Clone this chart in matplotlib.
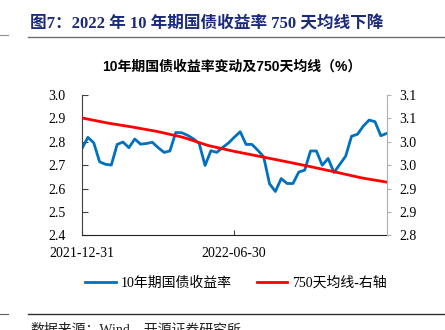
import pandas as pd
import matplotlib
matplotlib.use("Agg")
import matplotlib.pyplot as plt
from matplotlib.lines import Line2D

# weekly 10y government bond yield (%), Fridays from 2021-12-31
yield_start = "2021-12-31"
yield_values = [2.772, 2.819, 2.796, 2.715, 2.704, 2.701, 2.789, 2.799, 2.775, 2.812,
                2.790, 2.793, 2.798, 2.775, 2.755, 2.761, 2.840, 2.839, 2.828, 2.813,
                2.793, 2.699, 2.762, 2.755, 2.776, 2.795, 2.820, 2.843, 2.789, 2.789,
                2.764, 2.736, 2.621, 2.588, 2.643, 2.622, 2.622, 2.671, 2.679, 2.761,
                2.761, 2.700, 2.729, 2.669, 2.704, 2.739, 2.824, 2.832, 2.867, 2.893,
                2.886, 2.826, 2.836]

# 750-day moving average (right axis), month ends
ma_dates = ["2021-12-31", "2022-01-31", "2022-02-28", "2022-03-31", "2022-04-30",
            "2022-05-31", "2022-06-30", "2022-07-31", "2022-08-31", "2022-09-30",
            "2022-10-31", "2022-11-30", "2022-12-30"]
ma_values = [3.051, 3.040, 3.032, 3.022, 3.010, 2.992, 2.980, 2.969, 2.958, 2.947,
             2.935, 2.923, 2.914]

left_ticks = [2.4, 2.5, 2.6, 2.7, 2.8, 2.9, 3.0]
right_ticks = [2.80, 2.85, 2.90, 2.95, 3.00, 3.05, 3.10]
right_labels = ["2.8", "2.9", "2.9", "3.0", "3.0", "3.1", "3.1"]
date_ticks = ["2021-12-31", "2022-06-30"]

main_title = "图7：2022 年 10 年期国债收益率 750 天均线下降"
chart_title = "10年期国债收益率变动及750天均线（%）"
legend_labels = ["10年期国债收益率", "750天均线-右轴"]
source_text = "数据来源：Wind，开源证券研究所"

serif_cjk = ["Liberation Serif", "Noto Sans CJK SC"]

yield_dates = pd.date_range(yield_start, periods=len(yield_values), freq="7D")
ma_dates = pd.to_datetime(ma_dates)

fig = plt.figure(figsize=(4.45, 3.3), dpi=100)
ax = fig.add_axes([0.1843, 0.2864, 0.6847, 0.4257])
ax2 = ax.twinx()

l1, = ax.plot(yield_dates, yield_values, color="#0070C0", lw=2.0)
l2, = ax2.plot(ma_dates, ma_values, color="#FF0000", lw=2.0)

ax.set_xlim(yield_dates[0], yield_dates[-1])
ax.set_ylim(2.4, 3.0)
ax2.set_ylim(2.8, 3.1)

ax.set_yticks(left_ticks)
ax.set_yticklabels([f"{v:.1f}" for v in left_ticks])
ax2.set_yticks(right_ticks)
ax2.set_yticklabels(right_labels)
ax.set_xticks(pd.to_datetime(date_ticks))
ax.set_xticklabels(date_ticks)

for a in (ax, ax2):
    a.spines["top"].set_visible(False)
ax.spines["right"].set_visible(False)
ax2.spines["left"].set_visible(False)
ax2.spines["bottom"].set_visible(False)
ax.spines["left"].set_color("#404040")
ax.spines["bottom"].set_color("#202020")
ax2.spines["right"].set_color("#b0b0b0")

ax.tick_params(axis="y", direction="in", length=4, color="#404040", pad=12)
ax.tick_params(axis="x", direction="in", length=3.5, color="#404040", pad=8.5)
ax2.tick_params(axis="y", direction="out", length=3, color="#b0b0b0", pad=6)
for lab in ax.get_xticklabels() + ax.get_yticklabels() + ax2.get_yticklabels():
    lab.set_fontfamily("Liberation Serif")
    lab.set_fontsize(10)

fig.text(0.068, 0.927, main_title, fontsize=12, fontweight="bold", color="#1b2a7b",
         family=serif_cjk, va="center", ha="left")
fig.text(0.52, 0.797, chart_title, fontsize=10, fontweight="bold", color="black",
         family=["Liberation Sans", "Noto Sans CJK SC"], va="center", ha="center")

# header / footer rules
fig.add_artist(Line2D([0, 0.018], [0.894, 0.894], color="#909090", lw=0.8))
fig.add_artist(Line2D([0.063, 1], [0.887, 0.887], color="#707070", lw=1.0))
fig.add_artist(Line2D([0, 0.018], [0.047, 0.047], color="#606060", lw=0.8))
fig.add_artist(Line2D([0.063, 1], [0.049, 0.049], color="#303030", lw=1.0))

fig.legend([l1, l2], legend_labels, loc="center", bbox_to_anchor=(0.53, 0.142),
           ncol=2, frameon=False, handlelength=2.2, handletextpad=0.35,
           columnspacing=1.8, prop={"family": serif_cjk, "size": 10})

fig.text(0.068, 0.022, source_text, fontsize=10, color="#202020",
         family=serif_cjk, va="top", ha="left")

fig.savefig("out.png", dpi=100)
